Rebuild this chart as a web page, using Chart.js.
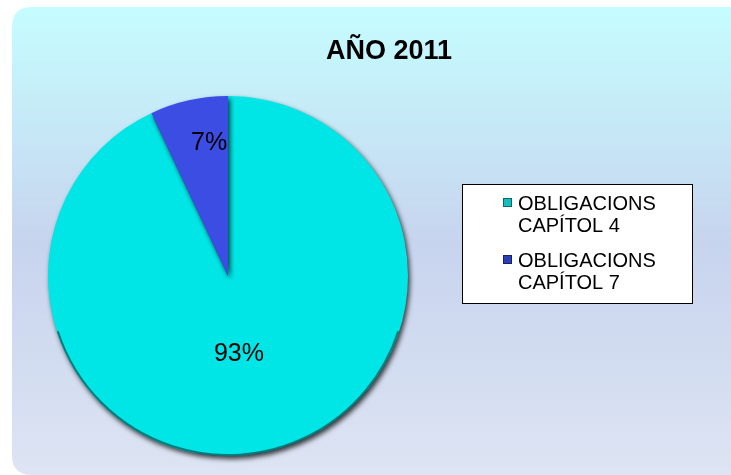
<!DOCTYPE html>
<html>
<head>
<meta charset="utf-8">
<script src="https://cdn.jsdelivr.net/npm/chart.js@4.4.1/dist/chart.umd.min.js"></script>
<style>
  html, body { margin: 0; padding: 0; background: #fff; }
  #wrap { width: 731px; height: 475px; }
</style>
</head>
<body>
<div id="wrap"><canvas id="myPieChart"></canvas></div>
<script>
// data
var chartTitle = 'AÑO 2011';
var categories = [['OBLIGACIONS', 'CAPÍTOL 4'], ['OBLIGACIONS', 'CAPÍTOL 7']];
var values = [93, 7];
var sliceColors = ['#00E6E6', '#3C4DE3'];
var markerColors = ['#16BDBD', '#2B3DB8'];

// background, title, legend and % labels
var decoPlugin = {
  id: 'deco',
  beforeDraw: function (chart) {
    var ctx = chart.ctx;
    ctx.save();
    var x = 12, y = 7, w = 731 - 12, h = 475 - 7, r = 20;
    var g = ctx.createLinearGradient(0, y, 0, y + h);
    g.addColorStop(0, '#C5FDFF');
    g.addColorStop(0.5, '#C7D4EE');
    g.addColorStop(1, '#DDE4F3');
    ctx.fillStyle = g;
    ctx.beginPath();
    ctx.moveTo(x + r, y);
    ctx.lineTo(x + w, y);
    ctx.lineTo(x + w, y + h);
    ctx.lineTo(x + r, y + h);
    ctx.quadraticCurveTo(x, y + h, x, y + h - r);
    ctx.lineTo(x, y + r);
    ctx.quadraticCurveTo(x, y, x + r, y);
    ctx.closePath();
    ctx.fill();
    ctx.restore();
  },
  beforeDatasetsDraw: function (chart) {
    var ctx = chart.ctx;
    ctx.save();
    ctx.shadowColor = 'rgba(0,0,0,0.75)';
    ctx.shadowBlur = 5;
    ctx.shadowOffsetX = 2;
    ctx.shadowOffsetY = 3;
  },
  afterDatasetsDraw: function (chart) {
    var ctx = chart.ctx;
    ctx.restore();

    var meta = chart.getDatasetMeta(0);
    var a0 = meta.data[0].getProps(['x', 'y', 'outerRadius'], true);

    // dark rim on the lower edge
    ctx.save();
    ctx.strokeStyle = 'rgba(0,40,40,0.55)';
    ctx.lineWidth = 2;
    ctx.beginPath();
    ctx.arc(a0.x, a0.y, a0.outerRadius - 1, 0.1 * Math.PI, 0.9 * Math.PI);
    ctx.stroke();
    ctx.restore();

    // percentage labels
    var total = values.reduce(function (a, b) { return a + b; }, 0);
    var along = [0.514, 0.68];
    var radial = [0.44, 0.745];
    ctx.save();
    ctx.font = '25px "Liberation Sans", Arial, sans-serif';
    ctx.fillStyle = '#000';
    ctx.textAlign = 'center';
    ctx.textBaseline = 'middle';
    meta.data.forEach(function (arc, i) {
      var p = arc.getProps(['x', 'y', 'startAngle', 'endAngle', 'outerRadius'], true);
      var ang = p.startAngle + (p.endAngle - p.startAngle) * along[i];
      var rr = p.outerRadius * radial[i];
      var pct = Math.round(values[i] / total * 100) + '%';
      ctx.fillText(pct, p.x + Math.cos(ang) * rr, p.y + Math.sin(ang) * rr);
    });

    // title
    ctx.font = 'bold 27px "Liberation Sans", Arial, sans-serif';
    ctx.textBaseline = 'alphabetic';
    ctx.fillText(chartTitle, 389, 59);

    // legend
    ctx.fillStyle = '#fff';
    ctx.fillRect(462, 184, 230, 119);
    ctx.strokeStyle = '#000';
    ctx.lineWidth = 1;
    ctx.strokeRect(462.5, 184.5, 230, 119);
    ctx.font = '20px "Liberation Sans", Arial, sans-serif';
    ctx.textAlign = 'left';
    categories.forEach(function (lines, i) {
      var top = 210 + i * 57;
      ctx.fillStyle = markerColors[i];
      ctx.fillRect(503, top - 12, 9, 9);
      ctx.strokeStyle = 'rgba(0,0,0,0.45)';
      ctx.strokeRect(503.5, top - 11.5, 8, 8);
      ctx.fillStyle = '#000';
      lines.forEach(function (t, j) {
        ctx.fillText(t, 518, top + j * 22);
      });
    });
    ctx.restore();
  }
};

var ctx = document.getElementById('myPieChart').getContext('2d');
var myPieChart = new Chart(ctx, {
  type: 'pie',
  data: {
    labels: categories,
    datasets: [{
      data: values,
      backgroundColor: sliceColors,
      borderWidth: 0
    }]
  },
  options: {
    responsive: true,
    maintainAspectRatio: false,
    animation: false,
    layout: {
      padding: { left: 48, right: 323, top: 96, bottom: 19 }
    },
    plugins: {
      legend: { display: false },
      title: { display: false },
      tooltip: { enabled: false }
    }
  },
  plugins: [decoPlugin]
});
</script>
</body>
</html>
